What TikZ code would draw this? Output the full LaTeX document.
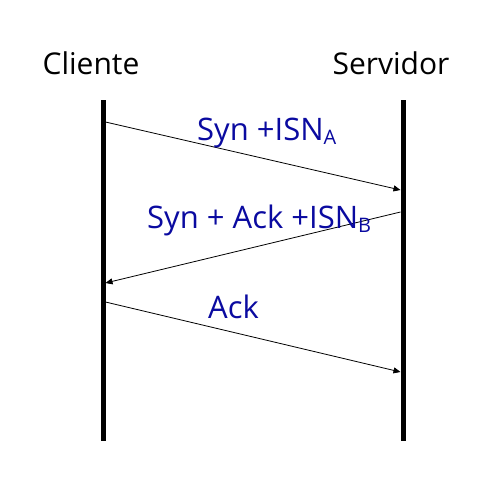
\documentclass[tikz,border=0pt]{standalone}
\usepackage{fontspec}
\setmainfont{Open Sans}
\usetikzlibrary{arrows.meta}
\definecolor{msgblue}{RGB}{10,10,160}
\newcommand{\lowsub}[1]{\raisebox{-0.3ex}{\fontsize{20}{24}\selectfont #1}}
\begin{document}
\begin{tikzpicture}[x=1pt,y=-1pt,
  party/.style={font=\fontsize{30}{34}\selectfont, text=black, inner sep=0pt},
  msg/.style={font=\fontsize{31}{36}\selectfont, text=msgblue, inner sep=0pt},
  life/.style={line width=5pt},
  arr/.style={line width=0.8pt, -{Triangle[length=7pt,width=6pt]}}]
\useasboundingbox (0,0) rectangle (492,501);
\node[party] (cli) at (91,63) {Cliente};
\node[party] (srv) at (391,63) {Servidor};
\coordinate (ct) at (103,100);
\coordinate (cb) at (103,441);
\coordinate (st) at (403,100);
\coordinate (sb) at (403,441);
\draw[life] (ct) -- (cb);
\draw[life] (st) -- (sb);
\coordinate (a1) at (105.5,122);
\coordinate (b1) at (400.5,190);
\coordinate (a2) at (400.5,212);
\coordinate (b2) at (105.5,283);
\coordinate (a3) at (105.5,302);
\coordinate (b3) at (400.5,372);
\draw[arr] (a1) -- (b1);
\draw[arr] (a2) -- (b2);
\draw[arr] (a3) -- (b3);
\node[msg, anchor=base west] (m1) at (197,140) {Syn +ISN\lowsub{A}};
\node[msg, anchor=base west] (m2) at (147,228) {Syn + Ack +ISN\lowsub{B}};
\node[msg, anchor=base west] (m3) at (208,318) {Ack};
\end{tikzpicture}
\end{document}
